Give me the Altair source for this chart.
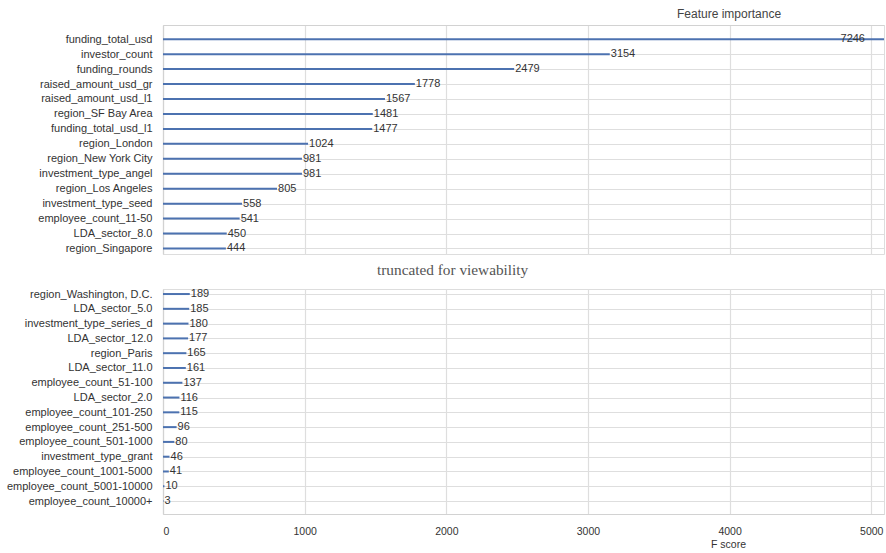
import altair as alt
import pandas as pd

# Highest-scoring features (upper panel)
top_features = [
    "funding_total_usd", "investor_count", "funding_rounds", "raised_amount_usd_gr",
    "raised_amount_usd_l1", "region_SF Bay Area", "funding_total_usd_l1", "region_London",
    "region_New York City", "investment_type_angel", "region_Los Angeles",
    "investment_type_seed", "employee_count_11-50", "LDA_sector_8.0", "region_Singapore",
]
top_scores = [7246, 3154, 2479, 1778, 1567, 1481, 1477, 1024, 981, 981, 805, 558, 541, 450, 444]

# Lowest-scoring features (lower panel)
tail_features = [
    "region_Washington, D.C.", "LDA_sector_5.0", "investment_type_series_d", "LDA_sector_12.0",
    "region_Paris", "LDA_sector_11.0", "employee_count_51-100", "LDA_sector_2.0",
    "employee_count_101-250", "employee_count_251-500", "employee_count_501-1000",
    "investment_type_grant", "employee_count_1001-5000", "employee_count_5001-10000",
    "employee_count_10000+",
]
tail_scores = [189, 185, 180, 177, 165, 161, 137, 116, 115, 96, 80, 46, 41, 10, 3]

x_ticks = [0, 1000, 2000, 3000, 4000, 5000]
X_MAX = 5090

BLUE = "#4c72b0"
GRID = "#dedede"
SPINE = "#d2d2d2"
SANS = "Liberation Sans"
TEXT = "#333333"
PLOT_W = 721


def panel(features, scores, height, pad, align, upper):
    df = pd.DataFrame({"feature": features, "score": scores})
    xscale = alt.Scale(domain=[0, X_MAX], nice=False, zero=True)
    y_axis = alt.Axis(
        title=None, grid=True, gridColor=GRID, gridWidth=1.2,
        domain=True, domainColor=SPINE, domainWidth=1.2,
        ticks=False, tickSize=0, labelPadding=11, labelFontSize=11,
        labelColor=TEXT, labelFont=SANS, labelLimit=160,
        minExtent=160, maxExtent=160,
    )
    if upper:
        x_axis = alt.Axis(
            orient="top", values=x_ticks, grid=True, gridColor=GRID, gridWidth=1.2,
            labels=False, ticks=False, tickSize=0, domain=True, domainColor=SPINE,
            domainWidth=1.2, title=None, minExtent=0, maxExtent=0,
        )
    else:
        x_axis = alt.Axis(
            orient="bottom", values=x_ticks, format="d", grid=True, gridColor=GRID,
            gridWidth=1.2, labels=True, labelFontSize=10.5, labelFont=SANS,
            labelColor=TEXT, labelPadding=12, ticks=False, tickSize=0, domain=True,
            domainColor=SPINE, domainWidth=1.2, title="F score", titleFont=SANS,
            titleFontSize=10.5, titleFontWeight="normal", titleColor=TEXT,
            titleX=565, titleY=30, titleAlign="center", titleBaseline="middle",
        )

    base = alt.Chart(df).encode(
        y=alt.Y("feature:N", sort=features,
                scale=alt.Scale(type="point", padding=pad, align=align),
                axis=y_axis)
    )
    bars = base.mark_rule(color=BLUE, strokeWidth=2, clip=True).encode(
        x=alt.X("score:Q", scale=xscale, axis=x_axis),
        x2=alt.X2(datum=0),
    )
    labels = base.mark_text(
        align="left", baseline="middle", dx=1, fontSize=11, font=SANS, color=TEXT
    ).encode(
        x=alt.X("score:Q"),
        text=alt.Text("score:Q", format="d"),
    ).transform_filter(alt.datum.score <= X_MAX)
    overflow = base.mark_text(
        align="right", baseline="middle", dx=-19, fontSize=11, font=SANS, color=TEXT
    ).encode(
        x=alt.datum(X_MAX),
        text=alt.Text("score:Q", format="d"),
    ).transform_filter(alt.datum.score > X_MAX)
    return alt.layer(bars, labels, overflow).properties(width=PLOT_W, height=height)


upper = panel(top_features, top_scores, 229, 0.66, 0.72, True).properties(
    title=alt.TitleParams(
        "Feature importance", anchor="start", frame="group", dx=514,
        font=SANS, fontSize=12, fontWeight="normal", color="#444444", offset=4,
    )
)
lower = panel(tail_features, tail_scores, 225, 0.608, 0.28, False).properties(
    title=alt.TitleParams(
        "truncated for viewability", anchor="start", frame="group", dx=214,
        font="Liberation Serif", fontSize=15.3, fontWeight="normal", color="#555555",
        offset=10,
    )
)

chart = alt.vconcat(upper, lower, spacing=7).properties(
    padding={"left": 2, "right": 0, "top": 7, "bottom": 0}
).configure_view(stroke=None).configure(background="white")

chart.save("out.html", embed_options={"renderer": "svg", "actions": False})
